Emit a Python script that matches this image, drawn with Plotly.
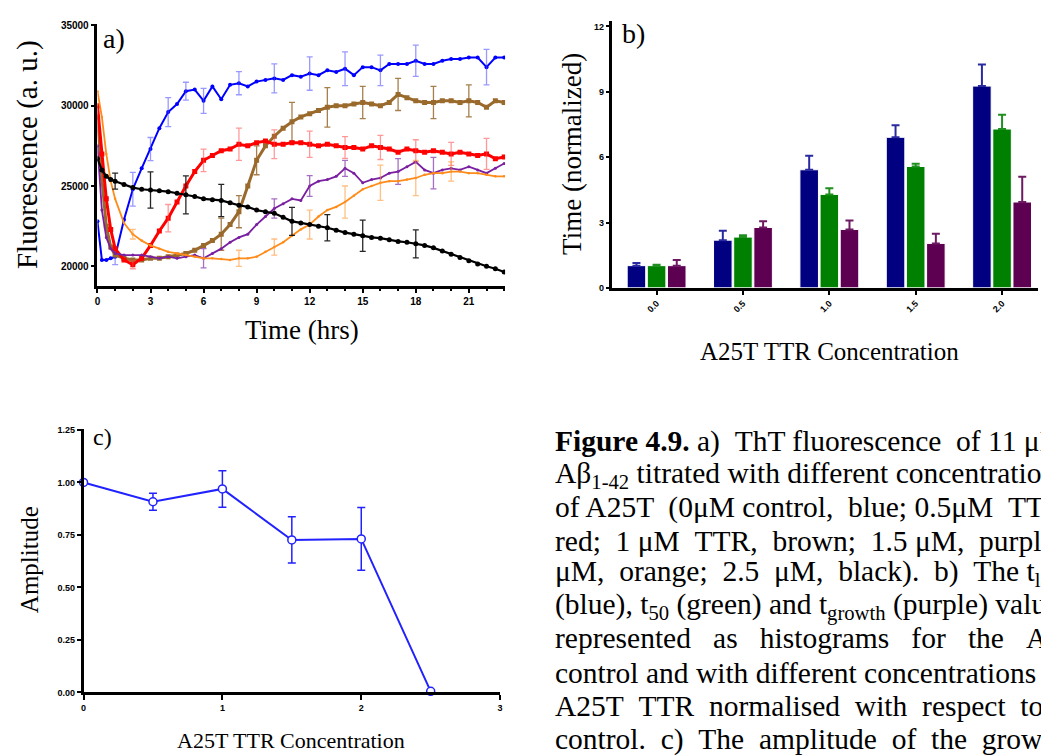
import plotly.graph_objects as go

# ---------------- Panel a data: ThT kinetics ----------------
T = [0, 0.25, 0.5, 0.75, 1.0, 1.5, 2.0, 2.5, 3.0, 3.5, 4.0, 4.5, 5.0, 5.5, 6.0, 6.5, 7.0, 7.5,
     8.0, 8.5, 9.0, 9.5, 10.0, 10.5, 11.0, 11.5, 12.0, 12.5, 13.0, 13.5, 14.0, 14.5, 15.0, 15.5,
     16.0, 16.5, 17.0, 17.5, 18.0, 18.5, 19.0, 19.5, 20.0, 20.5, 21.0, 21.5, 22.0, 22.5, 23.0]

blue = [22800, 20400, 20400, 20500, 20600, 22900, 24800, 26100, 27300, 28600, 29600, 30100, 30900, 31000,
        30300, 31200, 30400, 31300, 31400, 31200, 31500, 31600, 31700, 31600, 31900, 31800, 32000, 31900,
        32200, 32100, 32300, 31900, 32400, 32400, 32200, 32600, 32600, 32600, 32800, 32600, 32600, 32800,
        32900, 32900, 33000, 33000, 32400, 33000, 33000]
red = [30000, 27000, 24200, 22300, 21100, 20400, 20100, 20500, 21300, 22200, 23000, 24000, 25000, 25900,
       26600, 26900, 27200, 27300, 27600, 27500, 27700, 27800, 27600, 27600, 27700, 27700, 27600, 27500,
       27600, 27500, 27400, 27400, 27300, 27500, 27400, 27300, 27100, 27300, 27200, 27100, 27200, 27100,
       27000, 27100, 27000, 26900, 27000, 26700, 26800]
brown = [29300, 25500, 22500, 21200, 20700, 20500, 20400, 20400, 20500, 20500, 20600, 20700, 20800, 21000,
         21300, 21600, 22000, 22600, 23400, 25000, 26600, 27500, 28100, 28600, 29000, 29300, 29500, 29700,
         29900, 30000, 30000, 30100, 30200, 30100, 30000, 30200, 30700, 30500, 30300, 30200, 30200, 30300,
         30300, 30200, 30300, 30200, 29900, 30300, 30200]
purple = [27500, 23500, 21800, 21100, 20800, 20700, 20700, 20700, 20600, 20500, 20600, 20500, 20600, 20700,
          20500, 20800, 21100, 21500, 21800, 22000, 22600, 23100, 23600, 23900, 24200, 24100, 25000, 25300,
          25400, 25600, 26100, 25800, 25200, 25400, 25500, 25800, 25900, 26200, 26500, 26000, 25800, 26000,
          26100, 26000, 26200, 26000, 25800, 26100, 26400]
orange = [30900, 29300, 27000, 25300, 24200, 22700, 22000, 21600, 21300, 21100, 20900, 20800, 20700, 20600,
          20500, 20500, 20450, 20400, 20500, 20500, 20600, 20900, 21200, 21500, 21900, 22300, 22600, 23100,
          23500, 23700, 24000, 24400, 24800, 25000, 25200, 25300, 25300, 25400, 25500, 25700, 25800, 25800,
          25900, 25900, 25800, 25800, 25700, 25600, 25600]
black = [26700, 26000, 25600, 25400, 25300, 25100, 24900, 24800, 24750, 24700, 24650, 24550, 24450, 24350,
         24200, 24150, 24100, 23950, 23800, 23700, 23500, 23400, 23300, 23050, 22800, 22700, 22600, 22500,
         22400, 22250, 22100, 22000, 21900, 21800, 21750, 21650, 21550, 21500, 21400, 21300, 21150, 20950,
         20750, 20550, 20350, 20150, 20000, 19850, 19650]

# error bars (time of bar, half-length)
blue_err_t = [1, 2, 3, 4, 5, 6, 8, 10, 12, 14, 16, 18, 22]
blue_err = [500, 1050, 720, 900, 560, 780, 720, 900, 1040, 1050, 950, 970, 1100]
red_err_t = [2, 4, 6, 8, 10, 12, 14, 16, 18, 20, 22]
red_err = [250, 850, 700, 1000, 900, 820, 680, 750, 680, 720, 970]
brown_err_t = [7, 8, 9, 11, 13, 15, 17, 19, 21]
brown_err = [1000, 1000, 900, 1200, 1230, 1000, 1000, 1000, 1000]
purple_err_t = [6, 10, 12, 14, 17, 19]
purple_err = [600, 600, 650, 500, 800, 980]
orange_err_t = [2, 8, 10, 12, 14, 16, 18, 20]
orange_err = [300, 500, 500, 900, 1000, 1100, 1100, 600]
black_err_t = [1, 3, 5, 7, 11, 13, 15, 18]
black_err = [500, 1130, 1180, 1000, 870, 820, 970, 870]

time_ticks = [0, 3, 6, 9, 12, 15, 18, 21]
fluor_ticks = [20000, 25000, 30000, 35000]

# ---------------- Panel b data: normalised times ----------------
conc_labels = ["0.0", "0.5", "1.0", "1.5", "2.0"]
t_lag = [1.02, 2.19, 5.42, 6.91, 9.26]
t_lag_err = [0.12, 0.43, 0.64, 0.55, 0.99]
t_50 = [1.02, 2.33, 4.29, 5.57, 7.29]
t_50_err = [0.04, 0.08, 0.28, 0.13, 0.66]
t_growth = [1.02, 2.77, 2.68, 2.04, 3.94]
t_growth_err = [0.26, 0.29, 0.41, 0.44, 1.16]
time_norm_ticks = [0, 3, 6, 9, 12]

# ---------------- Panel c data: amplitude ----------------
amp_conc = [0, 0.5, 1, 1.5, 2, 2.5]
amplitude = [1.0, 0.908, 0.969, 0.726, 0.731, 0.005]
amplitude_err = [0.0, 0.04, 0.087, 0.11, 0.149, 0.0]
amp_ticks = [0, 0.25, 0.5, 0.75, 1.0, 1.25]
amp_conc_ticks = [0, 1, 2, 3]

NB = "\u00a0"
S2 = " " + NB
caption_lines = [
    "<b>Figure 4.9.</b> a)" + NB * 2 + "ThT fluorescence" + S2 + "of 11 μM",
    "Aβ<sub>1-42</sub> titrated with different concentrations",
    "of A25T" + S2 + "(0μM control," + S2 + "blue; 0.5μM" + S2 + "TTR,",
    "red;" + S2 + "1 μM" + S2 + "TTR," + S2 + "brown;" + S2 + "1.5 μM," + S2 + "purple; 2",
    ("μM," + NB * 2 + "orange;" + NB * 2 + "2.5" + NB * 2 + "μM," + NB * 2 + "black)." + NB * 2
     + "b)" + NB * 2 + "The t<sub>lag</sub>"),
    "(blue), t<sub>50</sub> (green) and t<sub>growth</sub> (purple) values",
    ("represented" + NB * 3 + "as" + NB * 3 + "histograms" + NB * 3 + "for" + NB * 3 + "the"
     + NB * 3 + "Aβ<sub>1-42</sub>"),
    "control and with different concentrations",
    "A25T" + NB * 2 + "TTR" + NB * 2 + "normalised" + NB * 2 + "with" + NB * 2 + "respect" + NB * 2 + "to the",
    "control." + NB * 2 + "c)" + NB * 2 + "The" + NB * 2 + "amplitude" + NB * 2 + "of" + NB * 2 + "the" + NB * 2 + "growth",
]

W, H = 1041, 755
SERIF = "Liberation Serif"
SANS = "Liberation Sans"

fig = go.Figure()

series = [
    ("blue", blue, "#0000ff", "rgba(70,70,255,0.55)", "circle", 4, 2, blue_err_t, blue_err),
    ("brown", brown, "#9a6a2c", "rgba(150,105,45,0.85)", "square", 5, 3, brown_err_t, brown_err),
    ("red", red, "#ff0000", "rgba(255,70,70,0.55)", "square", 5, 3, red_err_t, red_err),
    ("purple", purple, "#7a1fa0", "rgba(130,50,170,0.7)", "circle", 3, 1.8, purple_err_t, purple_err),
    ("orange", orange, "#ff8c1a", "rgba(255,150,50,0.6)", "circle", 2.5, 1.8, orange_err_t, orange_err),
    ("black", black, "#000000", "rgba(0,0,0,0.85)", "circle", 5, 2.2, black_err_t, black_err),
]
for name, ys, col, ecol, sym, msz, lw, et, ev in series:
    fig.add_trace(go.Scatter(x=T, y=ys, mode="lines+markers", name=name,
                             line=dict(color=col, width=lw),
                             marker=dict(color=col, size=msz, symbol=sym),
                             xaxis="x", yaxis="y", showlegend=False))
    ey = [ys[T.index(t)] for t in et]
    fig.add_trace(go.Scatter(x=et, y=ey, mode="markers",
                             marker=dict(color="rgba(0,0,0,0)", size=1),
                             error_y=dict(type="data", array=ev, color=ecol, thickness=1.3, width=3),
                             xaxis="x", yaxis="y", showlegend=False))

bar_specs = [
    (t_lag, t_lag_err, "#000080", "#2a2aa0"),
    (t_50, t_50_err, "#008000", "#1f8f1f"),
    (t_growth, t_growth_err, "#5e0052", "#6e1a62"),
]
for vals, errs, col, ecol in bar_specs:
    fig.add_trace(go.Bar(x=list(range(len(conc_labels))), y=vals,
                         marker=dict(color=col, line=dict(color="white", width=1)),
                         error_y=dict(type="data", symmetric=False, array=errs,
                                      arrayminus=[0] * len(errs), color=ecol, thickness=2, width=4),
                         xaxis="x2", yaxis="y2", showlegend=False))

fig.add_trace(go.Scatter(x=amp_conc, y=amplitude, mode="lines+markers",
                         line=dict(color="#2222ff", width=2),
                         marker=dict(symbol="circle", size=8, color="white",
                                     line=dict(color="#2222ff", width=1.5)),
                         error_y=dict(type="data", array=amplitude_err, color="#2222ff", thickness=1.5, width=4),
                         cliponaxis=False, xaxis="x3", yaxis="y3", showlegend=False))

tickfont = dict(family=SANS, size=10, color="black", weight="bold")
axis_common = dict(showline=True, linecolor="black", showgrid=False, zeroline=False,
                   ticks="outside", tickcolor="black", fixedrange=True)

fig.update_layout(
    width=W, height=H, margin=dict(l=0, r=0, t=0, b=0),
    paper_bgcolor="white", plot_bgcolor="white",
    bargap=0.3, bargroupgap=0.08, barmode="group",
    xaxis=dict(domain=[95 / W, 505 / W], range=[0, 23.05], anchor="y", tickvals=time_ticks,
               linewidth=2.5, ticklen=5, tickwidth=2, tickfont=tickfont,
               minor=dict(dtick=1, ticklen=3, tickwidth=1.5, tickcolor="black", ticks="outside"),
               **axis_common),
    yaxis=dict(domain=[1 - 285 / H, 1 - 20 / H], range=[18800, 35100], anchor="x", tickvals=fluor_ticks,
               tickformat="d", linewidth=2.5, ticklen=4, tickwidth=2, tickfont=tickfont,
               **axis_common),
    xaxis2=dict(domain=[613 / W, 1.0], range=[-0.511, 4.416], anchor="y2",
                tickvals=list(range(len(conc_labels))), ticktext=conc_labels, tickangle=-45,
                linewidth=2.5, ticklen=4, tickwidth=1.5,
                tickfont=dict(family=SANS, size=9, color="black", weight="bold"), **axis_common),
    yaxis2=dict(domain=[1 - 287.3 / H, 1 - 16.7 / H], range=[0, 12.27], anchor="x2",
                tickvals=time_norm_ticks, linewidth=2.5, ticklen=4, tickwidth=1.5,
                tickfont=dict(family=SANS, size=9, color="black", weight="bold"), **axis_common),
    xaxis3=dict(domain=[81 / W, 500 / W], range=[0, 3], anchor="y3", tickvals=amp_conc_ticks,
                linewidth=2.5, ticklen=5, tickwidth=2,
                tickfont=dict(family=SANS, size=9, color="black", weight="bold"), **axis_common),
    yaxis3=dict(domain=[1 - 696.7 / H, 1 - 430 / H], range=[0, 1.255], anchor="x3", tickvals=amp_ticks,
                tickformat=".2f", linewidth=2.5, ticklen=4, tickwidth=2,
                tickfont=dict(family=SANS, size=9, color="black", weight="bold"), **axis_common),
)

ann = []
def txt(x, y, s, size, angle=0, xanchor="center", yanchor="middle", family=SERIF):
    ann.append(dict(x=x / W, y=1 - y / H, xref="paper", yref="paper", text=s, showarrow=False,
                    textangle=angle, xanchor=xanchor, yanchor=yanchor,
                    font=dict(family=family, size=size, color="black")))

# panel a
txt(112, 35, "a)", 28)
txt(24, 152, "Fluorescence (a. u.)", 29, angle=-90)
txt(301, 330, "Time (hrs)", 27)
# panel b
txt(634, 30, "b)", 28)
txt(572, 152, "Time (normalized)", 27, angle=-90)
txt(831, 352, "A25T TTR Concentration", 25)
# panel c
txt(100, 438, "c)", 24)
txt(26, 562, "Amplitude", 25, angle=-90)
txt(290, 745, "A25T TTR Concentration", 22)
# caption
for i, line in enumerate(caption_lines):
    txt(553, 443 + 33.45 * i, line, 29.5, xanchor="left")

fig.update_layout(annotations=ann)
fig.write_html("out.html")
